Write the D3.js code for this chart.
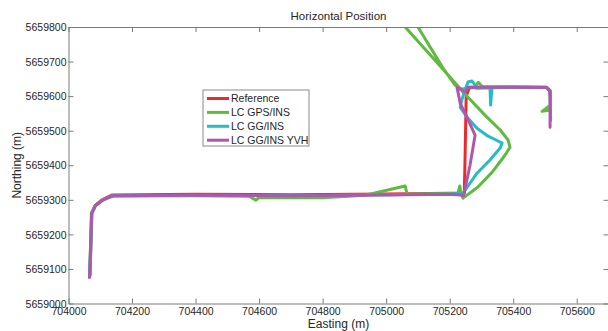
<!DOCTYPE html>
<html>
<head>
<meta charset="utf-8">
<script src="https://cdn.jsdelivr.net/npm/d3@7"></script>
<style>
  body { margin: 0; background: #fff; }
  text { font-family: "Liberation Sans", Arial, sans-serif; fill: #262626; }
</style>
</head>
<body>
<div id="chart"></div>
<script>
// tick labels
const xTicks = [704000, 704200, 704400, 704600, 704800, 705000, 705200, 705400, 705600];
const yTicks = [5659000, 5659100, 5659200, 5659300, 5659400, 5659500, 5659600, 5659700, 5659800];

const seriesNames = ["Reference", "LC GPS/INS", "LC GG/INS", "LC GG/INS YVH"];
const seriesColors = ["#ec2a2e", "#5fbb3f", "#25bcc4", "#ad57b0"];

// Reference
const refE = [704068, 704070, 704073, 704084, 704105, 704138, 704400, 704700, 705000, 705200, 705246,
  705248, 705250, 705252, 705262, 705400, 705505, 705515, 705517];
const refN = [5659082, 5659150, 5659262, 5659283, 5659300, 5659314, 5659316, 5659315, 5659317, 5659319, 5659320,
  5659400, 5659500, 5659600, 5659624, 5659626, 5659626, 5659616, 5659598];

// LC GPS/INS
const gpsE = [704066, 704069, 704072, 704086, 704108, 704142, 704400, 704570, 704590, 704600, 704800, 704934,
  705060, 705066, 705200, 705225, 705232, 705236, 705242, 705289, 705334, 705374, 705390, 705384, 705359,
  705311, 705248, 705179, 705060, 705028, 705085, 705100, 705179, 705217, 705239, 705264, 705280, 705290,
  705302, 705400, 705503, 705516, 705517, 705491, 705516, 705517];
const gpsN = [5659085, 5659160, 5659262, 5659285, 5659300, 5659311, 5659312, 5659310, 5659299, 5659307, 5659306, 5659313,
  5659340, 5659316, 5659318, 5659316, 5659340, 5659316, 5659305, 5659337, 5659380, 5659429, 5659452, 5659473, 5659502,
  5659545, 5659606, 5659678, 5659800, 5659832, 5659832, 5659800, 5659681, 5659632, 5659620, 5659626, 5659626, 5659640,
  5659628, 5659627, 5659626, 5659617, 5659574, 5659556, 5659560, 5659551];

// LC GG/INS
const ggE = [704067, 704070, 704074, 704085, 704107, 704140, 704400, 704700, 705000, 705200, 705242, 705286,
  705327, 705359, 705365, 705346, 705321, 705286, 705255, 705233, 705239, 705248, 705258, 705270, 705280,
  705283, 705327, 705329, 705333, 705400, 705505, 705516, 705518];
const ggN = [5659080, 5659155, 5659261, 5659284, 5659299, 5659312, 5659313, 5659312, 5659315, 5659317, 5659319, 5659377,
  5659415, 5659450, 5659464, 5659473, 5659484, 5659507, 5659539, 5659568, 5659591, 5659617, 5659641, 5659644, 5659632,
  5659623, 5659624, 5659574, 5659624, 5659625, 5659625, 5659615, 5659530];

// LC GG/INS YVH
const yvhE = [704066, 704069, 704073, 704084, 704106, 704137, 704400, 704700, 705000, 705200, 705244, 705264,
  705280, 705258, 705233, 705223, 705248, 705258, 705400, 705505, 705516, 705516];
const yvhN = [5659075, 5659150, 5659260, 5659282, 5659298, 5659312, 5659313, 5659312, 5659314, 5659316, 5659313, 5659400,
  5659487, 5659531, 5659580, 5659626, 5659612, 5659626, 5659626, 5659625, 5659614, 5659510];

const seriesE = [refE, gpsE, ggE, yvhE];
const seriesN = [refN, gpsN, ggN, yvhN];

const W = 608, H = 331;
const margin = { left: 68.5, top: 27, right: 608.5, bottom: 303.5 };

const svg = d3.select("#chart").append("svg")
  .attr("width", W).attr("height", H);

const x = d3.scaleLinear().domain([704000, 705700]).range([margin.left, margin.right]);
const y = d3.scaleLinear().domain([5659000, 5659800]).range([margin.bottom, margin.top]);

svg.append("clipPath").attr("id", "plotclip")
  .append("rect").attr("x", margin.left).attr("y", margin.top)
  .attr("width", margin.right - margin.left).attr("height", margin.bottom - margin.top);

// lines
const line = d3.line().x(d => x(d[0])).y(d => y(d[1]));
const plot = svg.append("g").attr("clip-path", "url(#plotclip)");
seriesE.forEach((es, i) => {
  const pts = es.map((e, j) => [e, seriesN[i][j]]);
  plot.append("path")
    .datum(pts)
    .attr("d", line)
    .attr("fill", "none")
    .attr("stroke", seriesColors[i])
    .attr("stroke-width", 3)
    .attr("stroke-linejoin", "round")
    .attr("stroke-linecap", "round");
});

// axes (ticks inside, like matlab)
const axisColor = "#7a7a7a";
const xAxis = svg.append("g").attr("transform", `translate(0,${margin.bottom})`)
  .call(d3.axisBottom(x).tickValues(xTicks).tickFormat(d3.format("d"))
    .tickSizeInner(-5).tickSizeOuter(0).tickPadding(4));
const yAxis = svg.append("g").attr("transform", `translate(${margin.left},0)`)
  .call(d3.axisLeft(y).tickValues(yTicks).tickFormat(d3.format("d"))
    .tickSizeInner(-5).tickSizeOuter(0).tickPadding(2));
const xTop = svg.append("g").attr("transform", `translate(0,${margin.top})`)
  .call(d3.axisTop(x).tickValues(xTicks).tickFormat("").tickSizeInner(-5).tickSizeOuter(0));
const yRight = svg.append("g").attr("transform", `translate(${margin.right},0)`)
  .call(d3.axisRight(y).tickValues(yTicks).tickFormat("").tickSizeInner(-5).tickSizeOuter(0));

[xAxis, yAxis, xTop, yRight].forEach(g => {
  g.select(".domain").attr("stroke", axisColor);
  g.selectAll(".tick line").attr("stroke", axisColor);
  g.selectAll("text").attr("font-size", "10.5px").attr("fill", "#262626")
    .attr("font-family", "Liberation Sans, Arial, sans-serif");
});
yAxis.selectAll("text").attr("dy", "0.35em");

// titles
const cx = (margin.left + margin.right) / 2;
svg.append("text").attr("x", cx).attr("y", 20)
  .attr("text-anchor", "middle").attr("font-size", "11.5px").text("Horizontal Position");
svg.append("text").attr("x", cx).attr("y", 328)
  .attr("text-anchor", "middle").attr("font-size", "12px").text("Easting (m)");
svg.append("text").attr("transform", `translate(21,${(margin.top + margin.bottom) / 2}) rotate(-90)`)
  .attr("text-anchor", "middle").attr("font-size", "12px").text("Northing (m)");

// legend
const lg = svg.append("g").attr("transform", "translate(203,90)");
lg.append("rect").attr("width", 106).attr("height", 56)
  .attr("fill", "#fff").attr("stroke", "#8a8a8a").attr("stroke-width", 1);
seriesNames.forEach((name, i) => {
  const yy = 8.5 + i * 13.9;
  lg.append("line").attr("x1", 4).attr("x2", 26).attr("y1", yy).attr("y2", yy)
    .attr("stroke", seriesColors[i]).attr("stroke-width", 3);
  lg.append("text").attr("x", 28).attr("y", yy).attr("dy", "0.35em")
    .attr("font-size", "10.5px").text(name);
});
</script>
</body>
</html>
